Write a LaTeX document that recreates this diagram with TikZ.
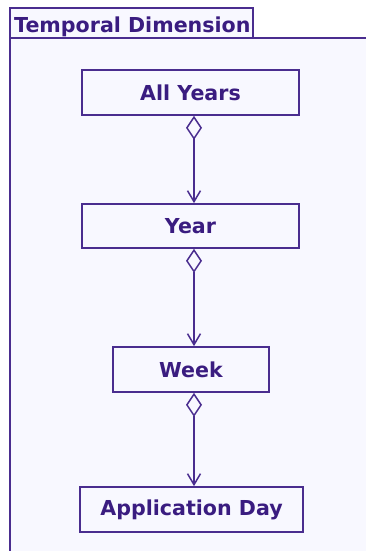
\documentclass[tikz,border=0pt]{standalone}
\usepackage{fontspec}
\setmainfont{DejaVu Sans}
\usetikzlibrary{arrows.meta}
\definecolor{umlline}{HTML}{4A2D8F}
\definecolor{umltext}{HTML}{3A1C80}
\definecolor{umlbg}{HTML}{F8F8FF}
\tikzset{
  cls/.style={draw=umlline, line width=1.7pt, fill=umlbg, text=umltext,
    font=\fontsize{20.6}{24}\selectfont\bfseries, inner sep=0pt, minimum height=45pt},
  agg/.style={draw=umlline, line width=1.5pt,
    {Diamond[open,length=24pt,width=16pt,fill=umlbg]}-{Straight Barb[length=11pt,width=13pt]}}
}
\begin{document}
\begin{tikzpicture}[x=1pt,y=-1pt]
\useasboundingbox (0,0) rectangle (365,551);
\fill[white] (0,0) rectangle (365,551);
% frame
\draw[umlline, line width=1.5pt, fill=umlbg] (10,38) rectangle (380,570);
\draw[umlline, line width=1.5pt, fill=umlbg] (10,8) rectangle (253,38);
\node[anchor=base west, text=umltext, font=\fontsize{20.6}{24}\selectfont\bfseries, inner sep=0pt] (title) at (14,32.5) {Temporal Dimension};
% classes
\node[cls, minimum width=217pt] (all) at (190.5,92.5) {All Years};
\node[cls, minimum width=217pt, minimum height=44pt] (year) at (190.5,226) {Year};
\node[cls, minimum width=156pt] (week) at (191,369.5) {Week};
\node[cls, minimum width=223pt] (day) at (191.5,509.5) {Application Day};
\coordinate (ax) at (194,0);
\draw[agg] (all.south -| ax) -- (year.north -| ax);
\draw[agg] (year.south -| ax) -- (week.north -| ax);
\draw[agg] (week.south -| ax) -- (day.north -| ax);
\end{tikzpicture}
\end{document}
